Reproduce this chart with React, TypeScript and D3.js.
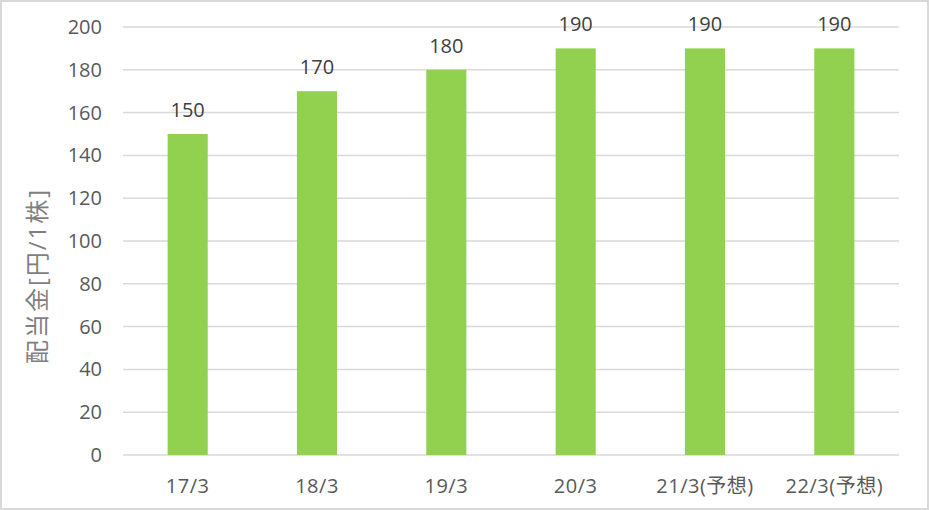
import React, { useEffect, useRef } from 'react';
import * as d3 from 'd3';

const categories = ['17/3', '18/3', '19/3', '20/3', '21/3(予想)', '22/3(予想)'];
const dividends = [150, 170, 180, 190, 190, 190];
const yTicks = [0, 20, 40, 60, 80, 100, 120, 140, 160, 180, 200];
const yTitle = '配当金[円/1株]';

const W = 929;
const H = 510;
const FONT = '"Open Sans", "Noto Sans CJK JP", sans-serif';
const TEXT = '#595959';

const App: React.FC = () => {
  const svgRef = useRef<SVGSVGElement>(null);

  useEffect(() => {
    document.body.style.margin = '0';
    if (!svgRef.current) return;
    const svg = d3.select(svgRef.current);
    svg.selectAll('*').remove();

    const left = 123;
    const right = 899;
    const top = 27;
    const bottom = 455;

    const x = d3.scaleBand<string>().domain(categories).range([left, right]).paddingInner(0.69).paddingOuter(0.345);
    const y = d3.scaleLinear().domain([0, 200]).range([bottom, top]);

    svg.append('rect')
      .attr('x', 1).attr('y', 1).attr('width', W - 2).attr('height', H - 2)
      .attr('fill', '#fff').attr('stroke', '#D9D9D9').attr('stroke-width', 2);

    // gridlines
    svg.append('g').selectAll('line').data(yTicks).enter().append('line')
      .attr('x1', left).attr('x2', right)
      .attr('y1', (d) => y(d)).attr('y2', (d) => y(d))
      .attr('stroke', '#D9D9D9').attr('stroke-width', 1.5);

    // y tick labels
    svg.append('g').selectAll('text').data(yTicks).enter().append('text')
      .attr('x', 102).attr('y', (d) => y(d))
      .attr('dy', '0.35em')
      .attr('text-anchor', 'end')
      .attr('font-family', FONT).attr('font-size', 20).attr('fill', TEXT)
      .text((d) => d);

    // bars
    svg.append('g').selectAll('rect').data(dividends).enter().append('rect')
      .attr('x', (d, i) => x(categories[i])!)
      .attr('width', x.bandwidth())
      .attr('y', (d) => y(d))
      .attr('height', (d) => y(0) - y(d))
      .attr('fill', '#92D050');

    // data labels
    svg.append('g').selectAll('text').data(dividends).enter().append('text')
      .attr('x', (d, i) => x(categories[i])! + x.bandwidth() / 2)
      .attr('y', (d) => y(d) - 17)
      .attr('text-anchor', 'middle')
      .attr('font-family', FONT).attr('font-size', 20).attr('fill', '#404040')
      .text((d) => d);

    // category labels
    svg.append('g').selectAll('text').data(categories).enter().append('text')
      .attr('x', (d) => x(d)! + x.bandwidth() / 2)
      .attr('y', 486)
      .attr('dy', '0.35em')
      .attr('text-anchor', 'middle')
      .attr('font-family', FONT).attr('font-size', 20).attr('letter-spacing', 0.5).attr('fill', TEXT)
      .text((d) => d);

    // y title
    svg.append('text')
      .attr('transform', `translate(38,276) rotate(-90)`)
      .attr('dy', '0.35em')
      .attr('text-anchor', 'middle')
      .attr('font-family', FONT).attr('font-size', 24).attr('letter-spacing', 2).attr('fill', '#7F7F7F')
      .text(yTitle);
  }, []);

  return (
    <svg ref={svgRef} width={W} height={H} style={{ position: 'absolute', left: 0, top: 0, display: 'block' }} />
  );
};

export default App;
